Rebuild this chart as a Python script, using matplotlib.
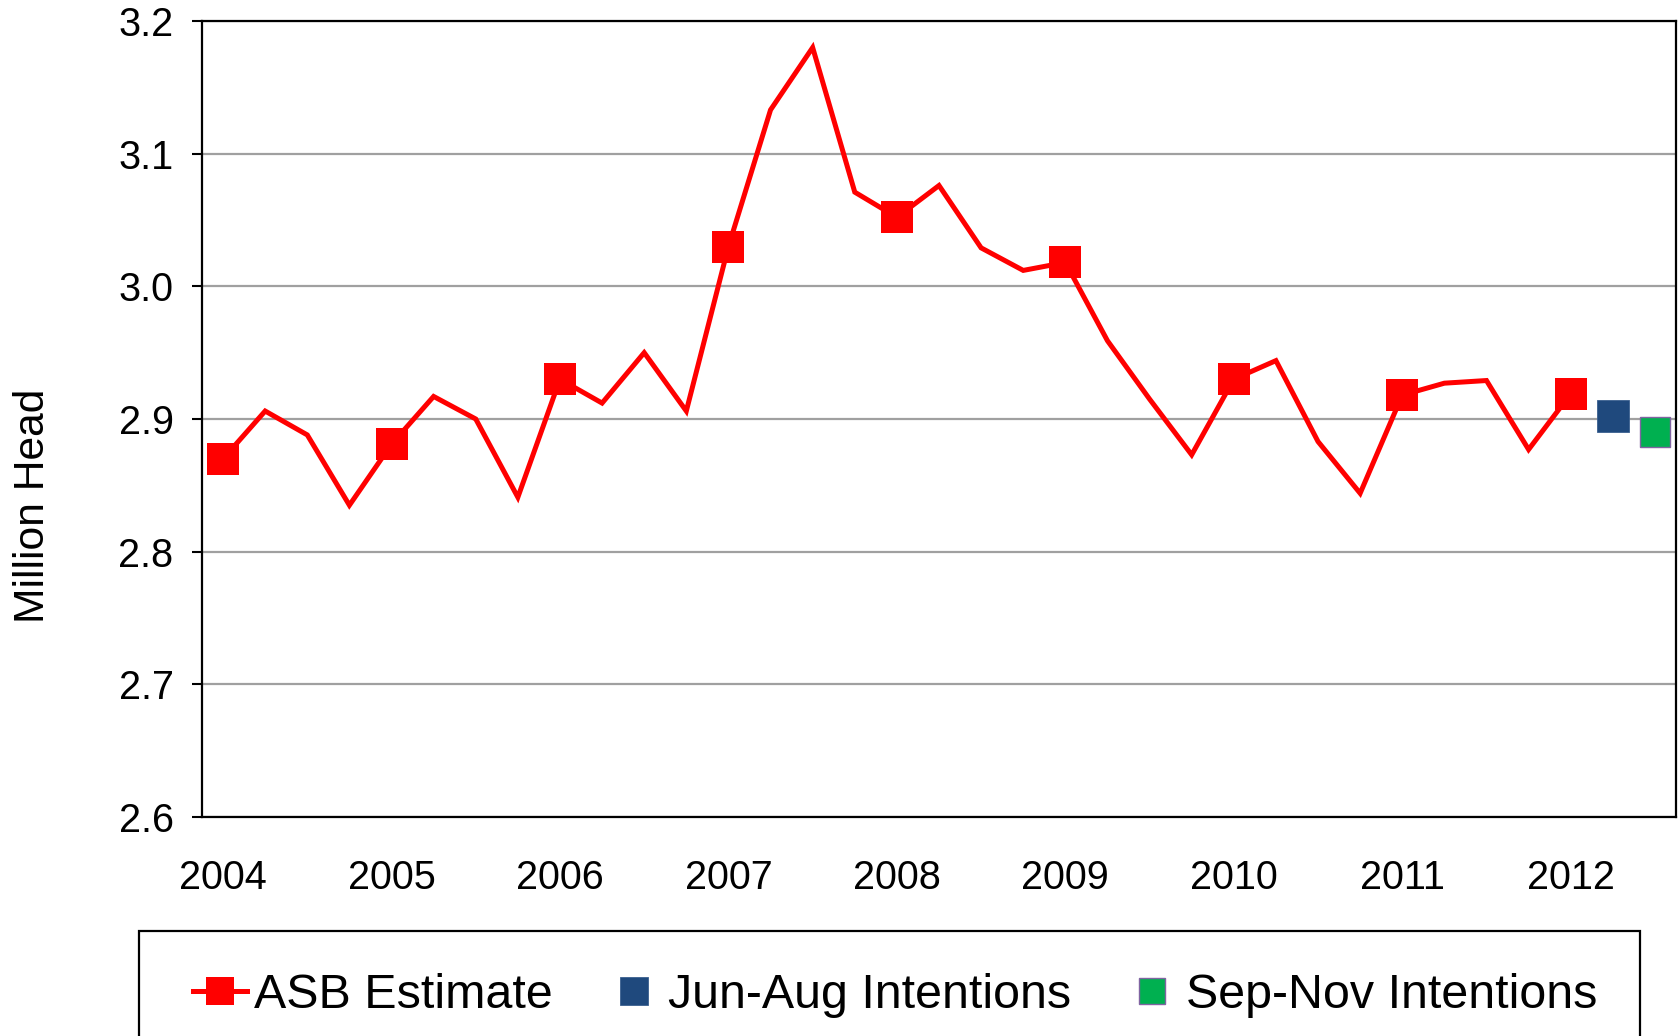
import numpy as np
import matplotlib
matplotlib.use("Agg")
import matplotlib.pyplot as plt
from matplotlib.patches import Rectangle

plt.rcParams['font.family'] = ['Liberation Sans', 'DejaVu Sans']

# ---- data ----
year_labels = ['2004', '2005', '2006', '2007', '2008', '2009', '2010', '2011', '2012']
asb_estimate = [2.870, 2.906, 2.888, 2.835,
                2.881, 2.917, 2.900, 2.841,
                2.930, 2.912, 2.950, 2.906,
                3.030, 3.133, 3.180, 3.071,
                3.052, 3.076, 3.029, 3.012,
                3.018, 2.959, 2.915, 2.873,
                2.930, 2.944, 2.883, 2.844,
                2.918, 2.927, 2.929, 2.877,
                2.919]
jun_aug_intentions = [2.902]
sep_nov_intentions = [2.890]
series_names = ['ASB Estimate', 'Jun-Aug Intentions', 'Sep-Nov Intentions']

n_asb = len(asb_estimate)
x_asb = np.arange(n_asb)
x_jun = np.array([n_asb])
x_sep = np.array([n_asb + 1])
n_cat = n_asb + 2

W, H = 1679, 1036
fig = plt.figure(figsize=(W / 100, H / 100), dpi=100)
ax = fig.add_axes([202 / W, 1 - 817 / H, (1676 - 202) / W, (817 - 21) / H])

red = '#FF0000'
blue = '#1F497D'
green = '#00B050'

ax.yaxis.grid(True, color='#A0A0A0', linewidth=1.6, zorder=0)
ax.set_axisbelow(True)

l1, = ax.plot(x_asb, asb_estimate, color=red, linewidth=3.6, marker='s',
              markersize=23, markevery=4, markerfacecolor=red, markeredgecolor=red,
              markeredgewidth=0, solid_joinstyle='miter', label=series_names[0], zorder=3)
l2, = ax.plot(x_jun, jun_aug_intentions, linestyle='none', marker='s', markersize=22.5,
              markerfacecolor=blue, markeredgecolor='#3A5F8F', markeredgewidth=0.6,
              label=series_names[1], zorder=3)
l3, = ax.plot(x_sep, sep_nov_intentions, linestyle='none', marker='s', markersize=22,
              markerfacecolor=green, markeredgecolor='#8064A2', markeredgewidth=1.0,
              label=series_names[2], zorder=3)

ax.set_xlim(-0.5, n_cat - 0.5)
ax.set_ylim(2.6, 3.2)
ax.set_yticks(np.arange(2.6, 3.2001, 0.1))
ax.set_yticklabels(['%.1f' % v for v in np.arange(2.6, 3.2001, 0.1)])
ax.set_xticks(np.arange(0, n_asb, 4))
ax.set_xticklabels(year_labels)

ax.tick_params(axis='y', direction='out', length=7.5, width=1.5, pad=13, labelsize=28.5, colors='black')
ax.tick_params(axis='x', length=0, pad=30, labelsize=28.5)

for s in ax.spines.values():
    s.set_color('black')
    s.set_linewidth(1.6)

fig.text(33 / W, 1 - 506 / H, 'Million Head', rotation=90, ha='center', va='center', fontsize=30.7)

# legend box (extends past the bottom edge)
rect = Rectangle((139 / W, -0.1), (1640 - 139) / W, 0.1 + (1 - 931 / H),
                 transform=fig.transFigure, fill=False, edgecolor='black',
                 linewidth=1.6, clip_on=False)
fig.patches.append(rect)

leg = fig.legend(handles=[l1, l2, l3], loc='center left',
                 bbox_to_anchor=(193 / W, 1 - 995 / H), ncol=3, frameon=False,
                 fontsize=34.8, handlelength=1.12, handletextpad=0.15,
                 columnspacing=1.11, borderpad=0, borderaxespad=0, markerscale=0.87)

fig.savefig('out.png', dpi=100)
